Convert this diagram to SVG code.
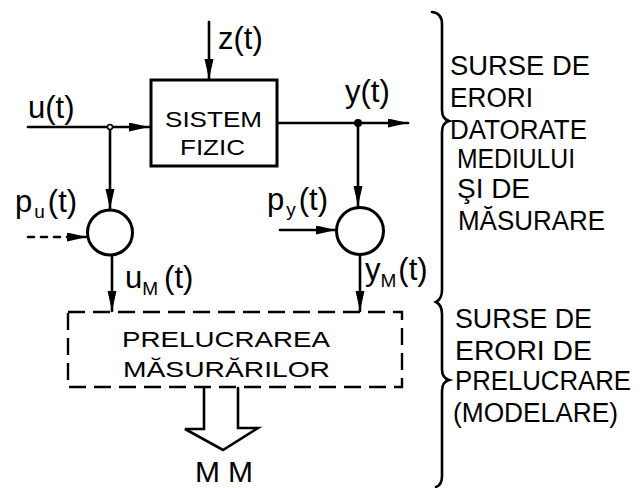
<svg xmlns="http://www.w3.org/2000/svg" width="641" height="488" viewBox="0 0 641 488">
<style>
  .ln{fill:none;stroke:#000;stroke-width:2.6;stroke-linecap:round}
  .dash{stroke-dasharray:6 7}
  .box{fill:#fff;stroke:#000;stroke-width:3}
  .dbox{fill:none;stroke:#000;stroke-width:2.4;stroke-dasharray:17 8}
  .c{fill:#fff;stroke:#000;stroke-width:3}
  text{font-family:"Liberation Sans",Arial,sans-serif;fill:#000}
  .lab{font-size:31px}
  .sub{font-size:19px}
  .blk{font-size:22px}
  .rt{font-size:27px}
  .mm{font-size:30px}
</style>
<defs>
  <marker id="ah" markerUnits="userSpaceOnUse" markerWidth="22" markerHeight="10" refX="20" refY="4.5" orient="auto">
    <path d="M0,0 L20,4.5 L0,9 z" fill="#000"/>
  </marker>
</defs>

<g id="connectors">
  <path class="ln" d="M209,22 L209,79" marker-end="url(#ah)"/>
  <path class="ln" d="M28,127 L149,127" marker-end="url(#ah)"/>
  <path class="ln" d="M110,127 L110,209" marker-end="url(#ah)"/>
  <path class="ln dash" d="M28,237 L87,237" marker-end="url(#ah)"/>
  <path class="ln" d="M112,255 L112,311" marker-end="url(#ah)"/>
  <path class="ln" d="M277,123 L408,123" marker-end="url(#ah)"/>
  <path class="ln" d="M358,123 L358,206" marker-end="url(#ah)"/>
  <path class="ln" d="M280,230 L336,230" marker-end="url(#ah)"/>
  <path class="ln" d="M360,255 L360,311" marker-end="url(#ah)"/>
  <circle cx="110" cy="127" r="2.5" fill="#fff" stroke="#000" stroke-width="1.5"/>
  <circle cx="358" cy="123" r="4" fill="#000"/>
</g>

<g id="sistem_fizic">
  <rect class="box" x="151" y="80" width="126" height="86"/>
  <text class="blk" x="165" y="127" textLength="97" lengthAdjust="spacingAndGlyphs">SISTEM</text>
  <text class="blk" x="180" y="155" textLength="65" lengthAdjust="spacingAndGlyphs">FIZIC</text>
</g>

<g id="sum_u">
  <circle class="c" cx="110" cy="232.5" r="22.5"/>
</g>

<g id="sum_y">
  <circle class="c" cx="360" cy="231" r="23.5"/>
</g>

<g id="prelucrare">
  <rect class="dbox" x="68" y="312" width="334" height="75"/>
  <text class="blk" x="122" y="347" textLength="208" lengthAdjust="spacingAndGlyphs">PRELUCRAREA</text>
  <text class="blk" x="123" y="377" textLength="207" lengthAdjust="spacingAndGlyphs">MĂSURĂRILOR</text>
</g>

<g id="mm">
  <path class="ln" d="M204,388 L204,429 L185,429 L223,450 L258,428 L238,428 L238,388" stroke-linejoin="miter"/>
  <text class="mm" x="195" y="482" textLength="58" lengthAdjust="spacing">MM</text>
</g>

<g id="labels">
  <text class="lab" x="218" y="49">z(t)</text>
  <text class="lab" x="28" y="118">u(t)</text>
  <text class="lab" x="345" y="102">y(t)</text>
  <text class="lab" x="15" y="212">p<tspan class="sub" dx="2" dy="6">u</tspan><tspan dx="3" dy="-6">(t)</tspan></text>
  <text class="lab" x="267" y="210">p<tspan class="sub" dx="2" dy="6">y</tspan><tspan dx="3" dy="-6">(t)</tspan></text>
  <text class="lab" x="125" y="288">u<tspan class="sub" dy="7">M</tspan><tspan dx="6" dy="-7">(t)</tspan></text>
  <text class="lab" x="365" y="280">y<tspan class="sub" dy="7">M</tspan><tspan dx="2" dy="-7">(t)</tspan></text>
</g>

<g id="braces">
  <path class="ln" stroke-width="2" d="M432,12 Q442,13 442,24 L442,110 Q442,119 449,121 Q442,123 442,132 L442,290 Q442,299 436,302 Q442,305 442,314 L442,369 Q442,378 449,380 Q442,382 442,391 L442,476 Q442,485 436,487"/>
</g>

<g id="notes">
  <text class="rt" x="450" y="75" textLength="140" lengthAdjust="spacingAndGlyphs">SURSE  DE</text>
  <text class="rt" x="450" y="107" textLength="83" lengthAdjust="spacingAndGlyphs">ERORI</text>
  <text class="rt" x="450" y="139" textLength="137" lengthAdjust="spacingAndGlyphs">DATORATE</text>
  <text class="rt" x="457" y="168" textLength="118" lengthAdjust="spacingAndGlyphs">MEDIULUI</text>
  <text class="rt" x="457" y="198" textLength="73" lengthAdjust="spacingAndGlyphs">ŞI  DE</text>
  <text class="rt" x="458" y="230" textLength="147" lengthAdjust="spacingAndGlyphs">MĂSURARE</text>
  <text class="rt" x="455" y="328" textLength="137" lengthAdjust="spacingAndGlyphs">SURSE  DE</text>
  <text class="rt" x="455" y="360" textLength="137" lengthAdjust="spacingAndGlyphs">ERORI  DE</text>
  <text class="rt" x="455" y="390" textLength="176" lengthAdjust="spacingAndGlyphs">PRELUCRARE</text>
  <text class="rt" x="453" y="422" textLength="165" lengthAdjust="spacingAndGlyphs">(MODELARE)</text>
</g>
</svg>
